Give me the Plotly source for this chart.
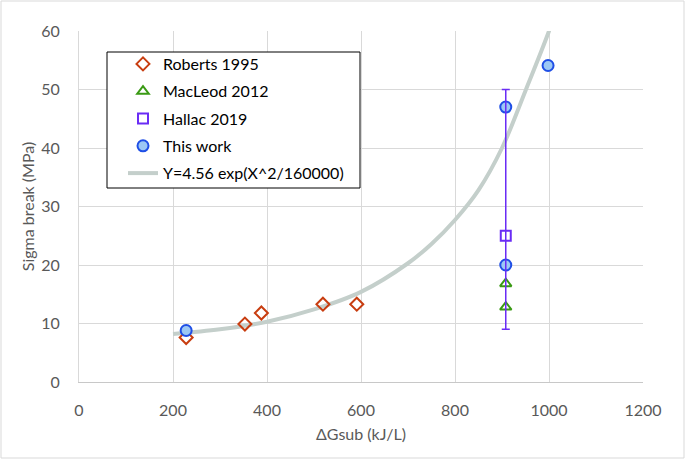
import plotly.graph_objects as go

# Data
roberts_x = [228, 353, 388, 519, 591]
roberts_y = [7.6, 9.9, 11.8, 13.3, 13.3]

macleod_x = [908, 908]
macleod_y = [16.8, 12.8]

hallac_x = [908]
hallac_y = [25.0]
hallac_err_plus = [25.0]
hallac_err_minus = [16.0]

thiswork_x = [228, 908, 908, 998]
thiswork_y = [8.8, 47.0, 20.0, 54.1]

fit_x = [200, 300, 400, 500, 600, 700, 750, 800, 850, 900, 950, 1000, 1010]
fit_y = [8.2, 9.0, 10.3, 12.4, 15.4, 20.3, 23.6, 27.7, 32.8, 40.0, 49.8, 60.0, 62.5]

x_ticks = [0, 200, 400, 600, 800, 1000, 1200]
y_ticks = [0, 10, 20, 30, 40, 50, 60]

FONT = "Lato"
# plot area geometry (px) for paper-coordinate conversions
L, T, W, H = 79, 31, 564, 351


def px_x(p):
    return (p - L) / W


def px_y(p):
    return (T + H - p) / H


fig = go.Figure()

fig.add_trace(go.Scatter(
    x=fit_x, y=fit_y, mode="lines", name="Y=4.56 exp(X^2/160000)",
    line=dict(color="#c4cfcb", width=4, shape="spline"),
    legendrank=5, legendgroup="e"))

fig.add_trace(go.Scatter(
    x=roberts_x, y=roberts_y, mode="markers", name="Roberts 1995",
    marker=dict(symbol="diamond-open", size=10, color="#c83d10", line=dict(width=2)),
    legendrank=1, legendgroup="a"))

fig.add_trace(go.Scatter(
    x=macleod_x, y=macleod_y, mode="markers", name="MacLeod 2012",
    marker=dict(symbol="triangle-up-open", size=10, color="#3a9a14", line=dict(width=2)),
    legendrank=2, legendgroup="b"))

fig.add_trace(go.Scatter(
    x=thiswork_x, y=thiswork_y, mode="markers", name="This work",
    marker=dict(symbol="circle", size=11, color="#9cc8f4", line=dict(width=2, color="#1f4fe6")),
    legendrank=4, legendgroup="d"))

fig.add_trace(go.Scatter(
    x=hallac_x, y=hallac_y, mode="markers", name="Hallac 2019",
    marker=dict(symbol="square-open", size=10, color="#6a2cf5", line=dict(width=2)),
    error_y=dict(type="data", symmetric=False, array=hallac_err_plus,
                 arrayminus=hallac_err_minus, color="#6a2cf5", thickness=1.5, width=4),
    legendrank=3, legendgroup="c"))

fig.update_layout(
    width=685, height=459,
    margin=dict(l=L, r=685 - L - W, t=T, b=459 - T - H, autoexpand=False),
    paper_bgcolor="white", plot_bgcolor="white",
    font=dict(family=FONT, size=16, color="#595959"),
    showlegend=True,
    legend=dict(
        x=px_x(123), y=px_y(47), xanchor="left", yanchor="top",
        borderwidth=0, bgcolor="rgba(0,0,0,0)",
        font=dict(family=FONT, size=16, color="#000000"),
        tracegroupgap=3.5, itemwidth=30,
    ),
    xaxis=dict(
        range=[0, 1200], tickvals=x_ticks, ticktext=[str(v) for v in x_ticks],
        showgrid=True, gridcolor="#d9d9d9", gridwidth=1,
        showline=True, linecolor="#c8c8c8", linewidth=1,
        zeroline=False, ticks="", ticklabelstandoff=14, automargin=False,
        title=dict(text="ΔGsub (kJ/L)", font=dict(size=16, color="#595959"), standoff=10),
    ),
    yaxis=dict(
        range=[0, 60], tickvals=y_ticks, ticktext=[str(v) for v in y_ticks],
        showgrid=True, gridcolor="#d9d9d9", gridwidth=1,
        showline=True, linecolor="#d9d9d9", linewidth=1,
        zeroline=False, ticks="", ticklabelstandoff=15, automargin=False,
        title=dict(text="Sigma break (MPa)", font=dict(size=16, color="#595959"), standoff=2),
    ),
    shapes=[
        dict(type="rect", xref="paper", yref="paper",
             x0=px_x(1), x1=px_x(684), y0=px_y(458), y1=px_y(1),
             line=dict(color="#d9d9d9", width=1), layer="below"),
        dict(type="rect", xref="paper", yref="paper",
             x0=px_x(107), x1=px_x(360), y0=px_y(188), y1=px_y(52),
             line=dict(color="#000000", width=1), fillcolor="white", layer="above"),
    ],
)

fig.write_html(
    "out.html",
    config={"displayModeBar": False},
    post_script="document.body.style.margin='0';document.body.style.padding='0';",
)
